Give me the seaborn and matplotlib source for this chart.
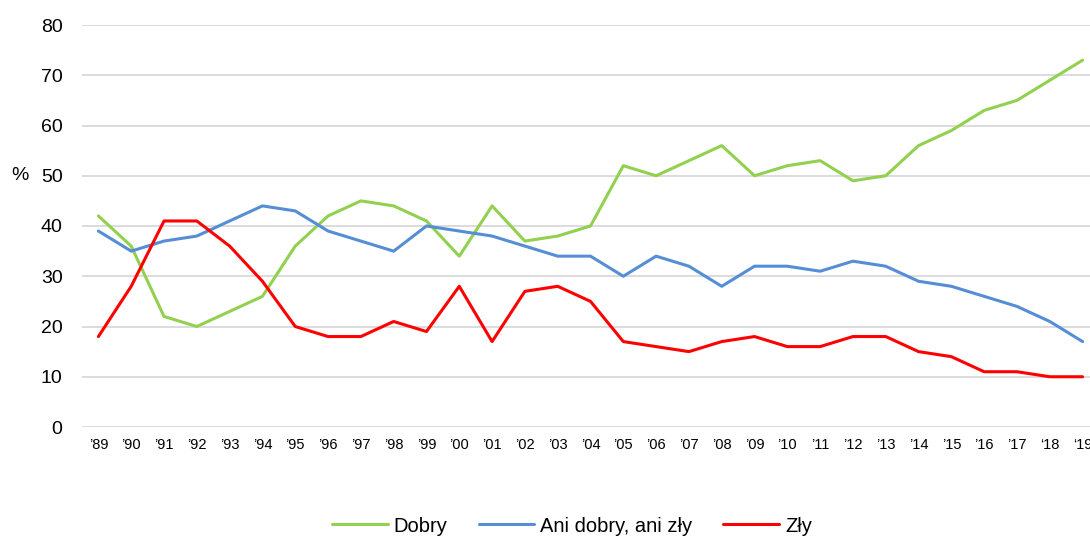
import matplotlib
matplotlib.use("Agg")
import matplotlib.pyplot as plt
import seaborn as sns
import pandas as pd

years = ["’89", "’90", "’91", "’92", "’93", "’94", "’95", "’96", "’97", "’98", "’99",
         "’00", "’01", "’02", "’03", "’04", "’05", "’06", "’07", "’08", "’09", "’10",
         "’11", "’12", "’13", "’14", "’15", "’16", "’17", "‘18", "‘19"]
dobry = [42, 36, 22, 20, 23, 26, 36, 42, 45, 44, 41, 34, 44, 37, 38, 40, 52, 50, 53, 56,
         50, 52, 53, 49, 50, 56, 59, 63, 65, 69, 73]
ani = [39, 35, 37, 38, 41, 44, 43, 39, 37, 35, 40, 39, 38, 36, 34, 34, 30, 34, 32, 28,
       32, 32, 31, 33, 32, 29, 28, 26, 24, 21, 17]
zly = [18, 28, 41, 41, 36, 29, 20, 18, 18, 21, 19, 28, 17, 27, 28, 25, 17, 16, 15, 17,
       18, 16, 16, 18, 18, 15, 14, 11, 11, 10, 10]
series_names = ["Dobry", "Ani dobry, ani zły", "Zły"]
colors = ["#92D050", "#558ED5", "#FF0000"]

sns.set_style("white")
plt.rcParams['font.family'] = ['Liberation Sans', 'DejaVu Sans']
plt.rcParams['text.color'] = 'black'
plt.rcParams['xtick.color'] = 'black'
plt.rcParams['ytick.color'] = 'black'

df = pd.DataFrame({"year": years * 3,
                   "value": dobry + ani + zly,
                   "series": [series_names[0]] * len(years) + [series_names[1]] * len(years) + [series_names[2]] * len(years)})
df["x"] = list(range(len(years))) * 3

fig = plt.figure(figsize=(10.9, 5.37), dpi=100)
ax = fig.add_axes([82 / 1090, 110 / 537, 1017 / 1090, 402 / 537])

sns.lineplot(data=df, x="x", y="value", hue="series", palette=colors,
             hue_order=series_names, linewidth=2.2, ax=ax, legend=True)

ax.set_xlim(-0.5, len(years) - 0.5)
ax.set_ylim(0, 80)
ax.set_yticks(range(0, 81, 10))
ax.set_xticks(range(len(years)))
ax.set_xticklabels(years, fontsize=10.5)
ax.tick_params(axis='y', labelsize=14, length=0, pad=14)
ax.tick_params(axis='x', length=0, pad=8)
ax.grid(axis='y', color='#D9D9D9', linewidth=1.3)
ax.set_axisbelow(True)
for s in ax.spines.values():
    s.set_visible(False)
ax.set_xlabel("")
ax.set_ylabel("")
fig.text(20 / 1090, 1 - 176 / 537, "%", fontsize=14, ha='center', va='center')

handles, labels = ax.get_legend_handles_labels()
ax.legend(handles, labels, loc='center', bbox_to_anchor=(572 / 1090, 1 - 526 / 537),
          bbox_transform=fig.transFigure, ncol=3, frameon=False, fontsize=14.5,
          handlelength=2.75, columnspacing=1.55, handletextpad=0.3)

fig.savefig("out.png", dpi=100)
